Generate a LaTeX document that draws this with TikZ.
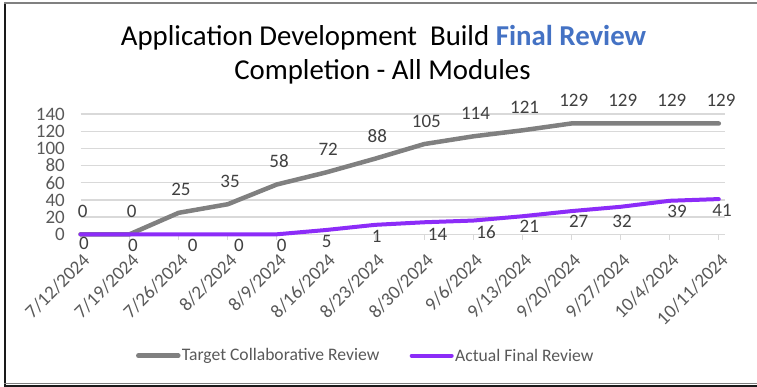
\documentclass[tikz,border=0pt]{standalone}
\usepackage{fontspec}
\setmainfont{Carlito}
\definecolor{gridc}{HTML}{D9D9D9}
\definecolor{axtxt}{HTML}{595959}
\definecolor{lbltxt}{HTML}{404040}
\definecolor{greyline}{HTML}{808080}
\definecolor{purpline}{HTML}{8C2CF8}
\definecolor{titleblue}{HTML}{4472C4}
\definecolor{framec}{HTML}{1A1A1A}
\begin{document}
\begin{tikzpicture}[x=1pt,y=-1pt,
  axlbl/.style={font=\fontsize{19}{19}\selectfont, text=axtxt, inner sep=0pt},
  datalbl/.style={font=\fontsize{19}{19}\selectfont, text=lbltxt, inner sep=0pt},
  leglbl/.style={font=\fontsize{17.6}{17.6}\selectfont, text=axtxt, inner sep=0pt, anchor=west},
  gridline/.style={draw=gridc, line width=1.3pt},
  serieA/.style={draw=greyline, line width=4.5pt, line cap=round, line join=round},
  serieB/.style={draw=purpline, line width=4pt, line cap=round, line join=round},
  titlefont/.style={font=\fontsize{28.8}{28.8}\selectfont, text=black, inner sep=0pt}]
\useasboundingbox (0,0) rectangle (757,387);
\fill[white] (0,0) rectangle (757,387);
% frame
\draw[framec, line width=2pt] (4.8,2) -- (4.8,386);
\draw[gray, line width=2pt] (4,3) -- (757,3);
\draw[gray, line width=1.5pt] (4,383.5) -- (757,383.5);
\draw[framec, line width=2pt] (4,386) -- (757,386);
% title
\node[titlefont] (title1) at (383.5,38) {Application Development\ \ Build \textcolor{titleblue}{\bfseries Final Review}};
\node[titlefont] (title2) at (382.5,72) {Completion - All Modules};
% grid
\foreach \v in {0,20,...,140} {
  \draw[gridline] (80.5,{234.3-0.8593*\v}) -- (725,{234.3-0.8593*\v});
  \node[axlbl, anchor=east] (yl\v) at (65,{234.3-0.8593*\v}) {\v};
}
\foreach \i in {0,...,13} {
  \draw[gridc, line width=1pt] ({80.5+49.1*\i},234.3) -- ({80.5+49.1*\i},240);
}
% dates
\foreach \d [count=\i from 0] in {7/12/2024,7/19/2024,7/26/2024,8/2/2024,8/9/2024,8/16/2024,8/23/2024,8/30/2024,9/6/2024,9/13/2024,9/20/2024,9/27/2024,10/4/2024,10/11/2024} {
  \node[axlbl, rotate=45, anchor=east] (d\i) at ({86.5+49.1*\i},257) {\d};
}
% data points
\foreach \v [count=\i from 0] in {0,0,25,35,58,72,88,105,114,121,129,129,129,129} {
  \coordinate (g\i) at ({80.5+49.1*\i},{234.3-0.8593*\v});
  \node[datalbl] (gl\i) at ({82.7+49.1*\i},{234.3-0.8593*\v-23}) {\v};
}
\foreach \v [count=\i from 0] in {0,0,0,0,0,5,11,14,16,21,27,32,39,41} {
  \coordinate (p\i) at ({80.5+49.1*\i},{234.3-0.8593*\v});
}
\draw[serieA] (g0) \foreach \i in {1,...,13} { -- (g\i) };
\draw[serieB] (p0) \foreach \i in {1,...,13} { -- (p\i) };
% purple labels
\foreach \t/\x/\y [count=\i from 0] in {0/84/243.7, 0/133/245.3, 0/192.7/245.5, 0/239/245.5, 0/281.7/245.5, 5/326.7/241.7, 1/376.7/236.7, 14/437.5/234, 16/486/231.7, 21/529.3/226.7, 27/578.7/221.7, 32/622/221.7, 39/677/211, 41/722/210} {
  \node[datalbl] (pl\i) at (\x,\y) {\t};
}
% legend
\coordinate (la1) at (138.3,355.7);
\coordinate (la2) at (178.3,355.7);
\draw[serieA] (la1) -- (la2);
\node[leglbl] (lt1) at (181.7,355.7) {Target Collaborative Review};
\coordinate (lb1) at (411.7,355.7);
\coordinate (lb2) at (451.7,355.7);
\draw[serieB] (lb1) -- (lb2);
\node[leglbl] (lt2) at (455,355.7) {Actual Final Review};
\end{tikzpicture}
\end{document}
